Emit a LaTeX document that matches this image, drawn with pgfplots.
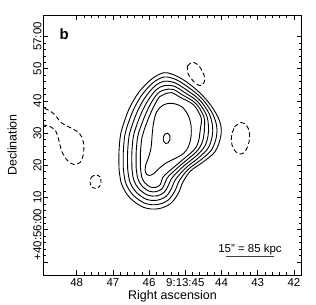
\documentclass[border=0pt]{standalone}
\usepackage{fontspec}
\setmainfont{Liberation Sans}
\usepackage{pgfplots}
\pgfplotsset{compat=1.18}
\begin{document}
\begin{tikzpicture}[font=\fontsize{11.5}{13}\selectfont]
\useasboundingbox (0,0) rectangle (316bp,305bp);
\begin{axis}[
  at={(43.3bp,30bp)}, anchor=south west,
  width=258.4bp, height=260bp, scale only axis,
  x dir=reverse,
  xmin=41.785, xmax=48.923, ymin=-14.069, ymax=66.677,
  xtick={42,43,44,45,46,47,48},
  xticklabels={42,43,44,9:13:45,46,47,48},
  ytick={-10,0,10,20,30,40,50,60},
  yticklabels={,+40:56:00\kern10bp,10,20,30,40,50,57:00},
  minor x tick num=4, minor y tick num=4,
  tick align=inside,
  major tick length=5bp, minor tick length=2.7bp,
  every tick/.style={black, line width=0.6bp},
  axis line style={line width=0.8bp},
  xticklabel style={anchor=north, inner sep=0pt},
  xticklabel shift=3bp,
  yticklabel style={rotate=90, anchor=south, inner sep=0pt},
  yticklabel shift=1.6bp,
  /pgf/number format/assume math mode=true,
  xlabel={Right ascension}, ylabel={Declination},
  xlabel style={at={(axis description cs:0.5,0)}, anchor=base, inner sep=0pt, yshift=-24.5bp, font=\fontsize{12.5}{14}\selectfont},
  ylabel style={at={(axis description cs:-0.1029,0.5)}, anchor=base, inner sep=0pt, font=\fontsize{12.5}{14}\selectfont},
  no marks,
  clip=true,
]
% solid contours
\addplot[black, line width=0.9bp, smooth, tension=0.55] coordinates {
(46.832,19.161)(46.832,24.130)(46.790,29.409)(46.680,33.757)(46.528,38.105)(46.279,42.763)(45.928,46.801)
(45.580,48.757)(45.229,47.639)(44.870,45.093)(44.511,41.521)(44.207,37.173)(44.028,32.826)(44.022,28.881)
(44.180,24.223)(44.511,21.024)(44.856,18.229)(45.064,14.813)(45.202,11.086)(45.423,7.981)(45.754,6.490)
(46.141,6.894)(46.528,9.844)(46.762,14.192)(46.832,19.161)};
\addplot[black, line width=0.9bp, smooth, tension=0.55] coordinates {
(46.713,19.161)(46.713,24.130)(46.671,29.276)(46.570,33.263)(46.421,37.531)(46.194,41.926)(45.885,45.695)
(45.580,47.422)(45.258,46.624)(44.924,44.292)(44.562,40.960)(44.278,36.678)(44.139,32.572)(44.138,29.012)
(44.271,24.860)(44.560,21.781)(44.917,18.759)(45.163,15.258)(45.291,11.967)(45.477,9.183)(45.766,7.825)
(46.105,8.163)(46.445,10.779)(46.649,14.593)(46.713,19.161)};
\addplot[black, line width=0.9bp, smooth, tension=0.55] coordinates {
(46.594,19.161)(46.594,24.130)(46.552,29.142)(46.459,32.769)(46.314,36.957)(46.110,41.088)(45.842,44.590)
(45.580,46.086)(45.286,45.609)(44.977,43.491)(44.614,40.399)(44.348,36.182)(44.249,32.319)(44.255,29.143)
(44.362,25.497)(44.609,22.538)(44.978,19.288)(45.263,15.702)(45.380,12.849)(45.530,10.385)(45.778,9.161)
(46.070,9.431)(46.362,11.714)(46.536,14.993)(46.594,19.161)};
\addplot[black, line width=0.9bp, smooth, tension=0.55] coordinates {
(46.476,19.161)(46.476,24.130)(46.434,29.009)(46.349,32.275)(46.207,36.382)(46.025,40.251)(45.800,43.484)
(45.580,44.751)(45.315,44.594)(45.031,42.689)(44.665,39.838)(44.419,35.687)(44.360,32.065)(44.371,29.274)
(44.453,26.134)(44.658,23.296)(45.039,19.818)(45.362,16.147)(45.469,13.730)(45.584,11.587)(45.790,10.496)
(46.034,10.700)(46.279,12.648)(46.424,15.394)(46.476,19.161)};
\addplot[black, line width=0.9bp, smooth, tension=0.55] coordinates {
(46.357,19.161)(46.357,24.130)(46.315,28.875)(46.238,31.781)(46.100,35.808)(45.941,39.414)(45.757,42.378)
(45.580,43.415)(45.343,43.579)(45.084,41.888)(44.716,39.277)(44.490,35.191)(44.470,31.811)(44.488,29.405)
(44.544,26.771)(44.707,24.053)(45.100,20.347)(45.462,16.592)(45.558,14.612)(45.637,12.789)(45.802,11.832)
(45.999,11.968)(46.196,13.583)(46.311,15.794)(46.357,19.161)};
\addplot[black, line width=0.9bp, smooth, tension=0.55] coordinates {
(46.238,19.161)(46.238,24.130)(46.196,28.742)(46.128,31.287)(45.994,35.234)(45.856,38.577)(45.714,41.273)
(45.580,42.080)(45.372,42.565)(45.138,41.087)(44.768,38.717)(44.561,34.696)(44.581,31.558)(44.604,29.536)
(44.635,27.408)(44.757,24.810)(45.161,20.877)(45.561,17.037)(45.648,15.493)(45.691,13.991)(45.814,13.167)
(45.963,13.237)(46.113,14.518)(46.198,16.195)(46.238,19.161)};
% elongated inner contour
\addplot[black, line width=0.9bp, smooth, tension=0.55] coordinates {
(45.920,28.881)(45.879,33.043)(45.790,36.645)(45.608,38.726)(45.376,39.254)(45.100,38.198)(44.926,35.621)
(44.843,32.515)(44.843,28.788)(44.912,25.838)(45.050,23.664)(45.285,22.111)(45.533,20.714)(45.727,19.006)
(45.865,17.453)(46.003,16.832)(46.100,17.763)(46.100,19.782)(46.017,22.422)(45.948,25.372)(45.920,28.881)};
% peak
\addplot[black, line width=0.9bp, smooth, tension=0.6] coordinates {
(45.608,28.726)(45.561,29.720)(45.486,29.968)(45.428,29.254)(45.423,28.012)(45.470,26.987)(45.544,26.770)
(45.602,27.484)(45.608,28.726)};
% negative (dashed) contours
\addplot[black, line width=0.9bp, dash pattern=on 4.5bp off 2.8bp, smooth, tension=0.6] coordinates {
(44.939,50.838)(44.829,51.925)(44.705,51.614)(44.580,50.217)(44.484,48.043)(44.470,46.024)(44.566,44.782)
(44.691,45.248)(44.829,46.801)(44.939,48.819)(44.939,50.838)};
\addplot[black, line width=0.9bp, dash pattern=on 4.5bp off 2.8bp, smooth, tension=0.6] coordinates {
(43.641,31.894)(43.461,33.291)(43.310,32.360)(43.227,30.186)(43.240,27.235)(43.323,24.751)(43.448,23.509)
(43.600,24.130)(43.710,26.304)(43.724,29.099)(43.641,31.894)};
\addplot[black, line width=0.9bp, dash pattern=on 3.5bp off 2.5bp, smooth, tension=0.6] coordinates {
(47.591,16.366)(47.481,16.987)(47.356,16.428)(47.329,14.906)(47.370,13.416)(47.481,12.857)(47.591,13.416)
(47.633,14.906)(47.591,16.366)};
\addplot[black, line width=0.9bp, dash pattern=on 4.5bp off 2.8bp, smooth, tension=0.55] coordinates {
(49.069,38.726)(48.923,37.950)(48.646,36.149)(48.414,33.136)(48.158,31.583)(47.923,29.937)(47.818,27.235)
(47.812,23.509)(47.909,20.869)(48.075,20.248)(48.254,21.490)(48.406,24.130)(48.503,28.167)(48.572,30.496)
(48.710,31.894)(48.923,32.577)(49.069,32.826)};
% scale bar
\draw[black!75, line width=0.9bp] (axis cs:43.884,-8.168) -- (axis cs:42.550,-8.168);
\node[anchor=base, inner sep=0pt] at (axis cs:43.213,-7.081) {15" = 85 kpc};
\node[anchor=base west, inner sep=0pt, font=\fontsize{15}{17}\selectfont\bfseries] at (axis cs:48.475,58.913) {b};
\end{axis}
\end{tikzpicture}
\end{document}
